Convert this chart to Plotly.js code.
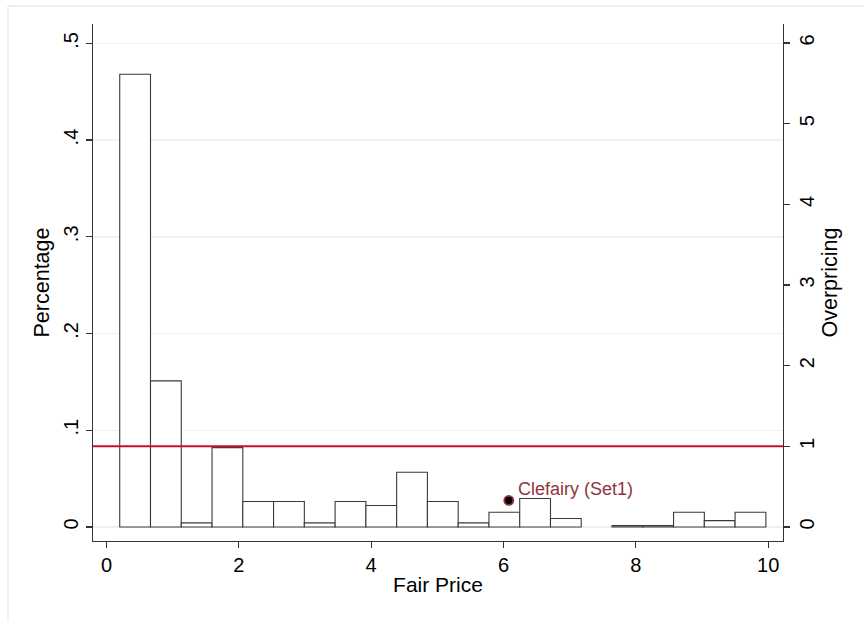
<!DOCTYPE html>
<html>
<head>
<meta charset="utf-8">
<script src="https://cdn.plot.ly/plotly-3.0.1.min.js"></script>
<style>html,body{margin:0;padding:0;background:#fff;}#chart{width:864px;height:622px;}</style>
</head>
<body>
<div id="chart"></div>
<script>
// Histogram of Fair Price (bin centres, bin width 0.465)
const binCenters = [0.4325, 0.8975, 1.3625, 1.8275, 2.2925, 2.7575, 3.2225, 3.6875, 4.1525, 4.6175,
                    5.0825, 5.5475, 6.0125, 6.4775, 6.9425, 7.4075, 7.8725, 8.3375, 8.8025, 9.2675, 9.7325];
const binWidth = 0.465;
const percentage = [0.468, 0.151, 0.0042, 0.082, 0.0264, 0.0264, 0.0042, 0.0264, 0.0222, 0.0566,
                    0.0264, 0.0042, 0.0153, 0.0295, 0.0087, null, 0.0014, 0.0014, 0.0153, 0.0066, 0.0153];

// Highlighted card (overpricing axis)
const pointName = ["Clefairy (Set1)"];
const pointX = [6.08];
const pointY = [0.33];

// Reference line on overpricing axis
const overpricingRef = 1;

// Tick labels
const xTicks = [0, 2, 4, 6, 8, 10];
const yTickVals = [0, 0.1, 0.2, 0.3, 0.4, 0.5];
const yTickText = ["0", ".1", ".2", ".3", ".4", ".5"];
const y2TickVals = [0, 1, 2, 3, 4, 5, 6];

const FONT = "Liberation Sans, Arial, Helvetica, sans-serif";
const cranberry = "rgb(144,53,59)";
const gridCol = "rgb(234,242,243)";

const traces = [
  {
    type: "bar",
    x: binCenters,
    y: percentage,
    width: binWidth,
    marker: {color: "#ffffff", line: {color: "#3a3a3a", width: 1.1}},
    hoverinfo: "x+y",
    showlegend: false
  },
  {
    type: "scatter",
    mode: "markers",
    x: pointX,
    y: pointY,
    yaxis: "y2",
    marker: {size: 9, color: "#000000", line: {color: cranberry, width: 1.8}},
    showlegend: false,
    cliponaxis: false
  }
];

// pixel -> paper helpers for decorative frame
const L = 93, R = 81, T = 24, B = 81, W = 864, H = 622;
const pw = W - L - R, ph = H - T - B;
const px = p => (p - L) / pw;
const py = p => (H - B - p) / ph;

const layout = {
  width: W, height: H,
  margin: {l: L, r: R, t: T, b: B, pad: 0},
  paper_bgcolor: "#ffffff",
  plot_bgcolor: "#ffffff",
  font: {family: FONT, size: 20, color: "#000"},
  bargap: 0,
  xaxis: {
    range: [-0.204, 10.224],
    tickvals: xTicks,
    ticks: "outside", ticklen: 6, tickwidth: 1.2, tickcolor: "#333",
    showline: true, linecolor: "#333", linewidth: 1.2,
    showgrid: false, zeroline: false,
    tickfont: {size: 20},
    title: {text: "Fair Price", font: {size: 21}, standoff: 2}
  },
  yaxis: {
    range: [-0.0145, 0.52],
    tickvals: yTickVals, ticktext: yTickText,
    tickangle: -90,
    ticks: "outside", ticklen: 6, tickwidth: 1.2, tickcolor: "#333",
    showline: true, linecolor: "#333", linewidth: 1.2,
    showgrid: true, gridcolor: gridCol, gridwidth: 1.5,
    zeroline: false,
    tickfont: {size: 20},
    title: {text: "Percentage", font: {size: 21.5}, standoff: 4}
  },
  yaxis2: {
    overlaying: "y", side: "right",
    range: [-0.1735, 6.235],
    tickvals: y2TickVals,
    tickangle: -90,
    ticks: "outside", ticklen: 6, tickwidth: 1.2, tickcolor: "#333",
    showline: true, linecolor: "#333", linewidth: 1.2,
    showgrid: false, zeroline: false,
    tickfont: {size: 20},
    title: {text: "Overpricing", font: {size: 21.5}, standoff: 2}
  },
  annotations: [
    {x: pointX[0], y: pointY[0], xref: "x", yref: "y2", text: pointName[0], showarrow: false,
     xanchor: "left", yanchor: "middle", xshift: 7, yshift: 11,
     font: {family: FONT, size: 18, color: cranberry}}
  ],
  shapes: [
    {type: "line", xref: "paper", yref: "y2", x0: 0, x1: 1, y0: overpricingRef, y1: overpricingRef,
     line: {color: "rgb(200,16,46)", width: 2}, layer: "above"},
    {type: "line", xref: "paper", yref: "paper", x0: px(8), x1: px(864), y0: py(6), y1: py(6),
     line: {color: "#e6eef0", width: 1.5}},
    {type: "line", xref: "paper", yref: "paper", x0: px(8), x1: px(8), y0: py(6), y1: py(622),
     line: {color: "#e6eef0", width: 1.5}}
  ]
};

Plotly.newPlot("chart", traces, layout, {displayModeBar: false, staticPlot: true});
</script>
</body>
</html>
